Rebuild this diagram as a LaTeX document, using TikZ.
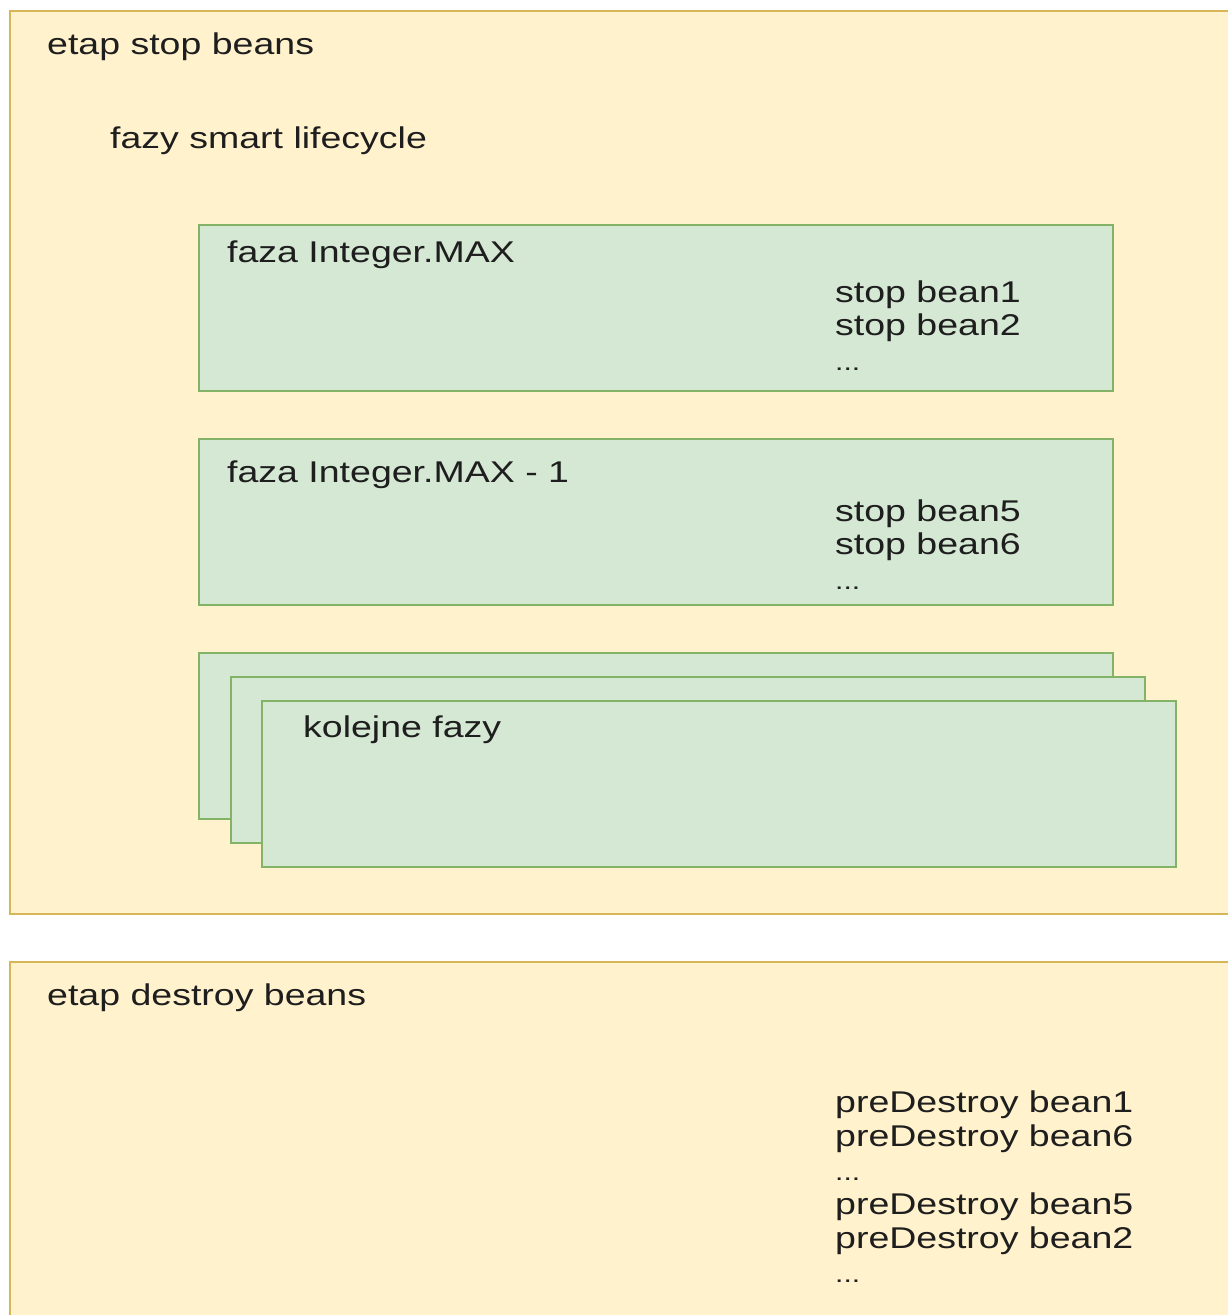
\documentclass[tikz,border=0pt]{standalone}
\usepackage{fontspec}
\setmainfont{Liberation Sans}[FakeStretch=1.25]
\usepackage{tikz}
\usetikzlibrary{positioning}
\definecolor{stagefill}{HTML}{FFF2CC}
\definecolor{stageline}{HTML}{D6B656}
\definecolor{phasefill}{HTML}{D5E8D4}
\definecolor{phaseline}{HTML}{82B366}
\definecolor{ink}{HTML}{1E1E1E}
\newcommand{\moredots}{{\fontsize{24}{24}\selectfont...}}

\begin{document}
\begin{tikzpicture}[x=1pt, y=-1pt, font=\fontsize{30}{34}\selectfont,
  box/.style={rectangle, inner sep=0pt, outer sep=0pt, anchor=north west, line width=2pt},
  stage/.style={box, draw=stageline, fill=stagefill},
  phase/.style={box, draw=phaseline, fill=phasefill, minimum width=914, minimum height=166},
  lbl/.style={anchor=base west, inner sep=0pt, text=ink}]
  \useasboundingbox (0,0) rectangle (1228,1315);
  \clip (0,0) rectangle (1228,1315);
  \node[stage, minimum width=1240, minimum height=903] (stopstage) at (10,11) {};
  \node[stage, minimum width=1240, minimum height=420] (destroystage) at (10,962) {};
  \node[phase] (phasemax) at (199,225) {};
  \node[phase] (phasemaxm) at (199,439) {};
  \foreach \i/\x/\y in {1/199/653, 2/231/677, 3/262/701}
    \node[phase] (phasenext\i) at (\x,\y) {};
  % titles
  \node[lbl] (stoptitle) at (47,54) {etap stop beans};
  \node[lbl] (smarttitle) at (110,148) {fazy smart lifecycle};
  \node[lbl] (maxtitle) at (227,262) {faza Integer.MAX};
  \node[lbl] (maxmtitle) at (227,482) {faza Integer.MAX - 1};
  \node[lbl] (nexttitle) at (303,737) {kolejne fazy};
  \node[lbl] (destroytitle) at (47,1005) {etap destroy beans};
  % bean lists
  \foreach \t/\y [count=\k] in {stop bean1/302, stop bean2/335, \moredots/370}
    \node[lbl] (maxbean\k) at (835,\y) {\t};
  \foreach \t/\y [count=\k] in {stop bean5/521, stop bean6/554, \moredots/589}
    \node[lbl] (maxmbean\k) at (835,\y) {\t};
  \foreach \t/\y [count=\k] in {preDestroy bean1/1112, preDestroy bean6/1146, \moredots/1180,
      preDestroy bean5/1214, preDestroy bean2/1248, \moredots/1282}
    \node[lbl] (destroybean\k) at (835,\y) {\t};
\end{tikzpicture}
\end{document}
